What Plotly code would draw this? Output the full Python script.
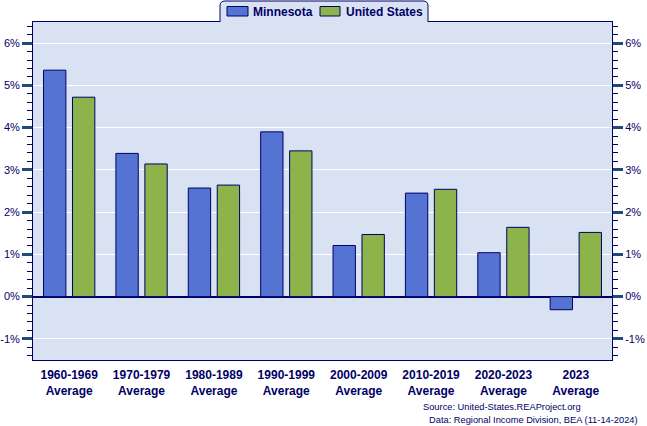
import plotly.graph_objects as go

categories = ["1960-1969<br>Average", "1970-1979<br>Average", "1980-1989<br>Average",
              "1990-1999<br>Average", "2000-2009<br>Average", "2010-2019<br>Average",
              "2020-2023<br>Average", "2023<br>Average"]
minnesota = [5.36, 3.39, 2.57, 3.90, 1.21, 2.45, 1.04, -0.31]
united_states = [4.72, 3.14, 2.64, 3.45, 1.47, 2.54, 1.64, 1.52]
series_names = ["Minnesota", "United States"]
tick_values = [-1, 0, 1, 2, 3, 4, 5, 6]
tick_labels = ["-1%", "0%", "1%", "2%", "3%", "4%", "5%", "6%"]

W, H = 647, 426
ML, MR, MT, MB = 33, 35, 22, 66
PW, PH = W - ML - MR, H - MT - MB

def px(x):
    return (x - ML) / PW

def py(y):
    return (H - MB - y) / PH

NAVY = "#000066"
TICK = "#1f4a7a"
BG = "#d9e2f3"
BLUE = "#5573d2"
GREEN = "#8cb44b"
FONT = "Liberation Sans, Arial, sans-serif"

fig = go.Figure()
fig.add_trace(go.Bar(x=categories, y=minnesota, name=series_names[0],
                     marker=dict(color=BLUE, line=dict(color=NAVY, width=1))))
fig.add_trace(go.Bar(x=categories, y=united_states, name=series_names[1],
                     marker=dict(color=GREEN, line=dict(color=NAVY, width=1))))
fig.add_trace(go.Scatter(x=categories, y=minnesota, yaxis="y2", mode="markers",
                         marker=dict(opacity=0), hoverinfo="skip", showlegend=False))

yax = dict(range=[-1.5, 6.5], tickmode="array", tickvals=tick_values, ticktext=tick_labels,
           ticks="outside", ticklen=10, tickwidth=3, tickcolor=TICK,
           tickfont=dict(family=FONT, size=11, color=NAVY),
           minor=dict(tickmode="linear", tick0=0, dtick=0.2, ticklen=5, tickwidth=1,
                      tickcolor=NAVY, ticks="outside", showgrid=False),
           showline=True, linecolor=NAVY, linewidth=1, fixedrange=True, automargin=False)

fig.update_layout(
    width=W, height=H,
    margin=dict(l=ML, r=MR, t=MT, b=MB, pad=0, autoexpand=False),
    paper_bgcolor="white", plot_bgcolor=BG,
    barmode="group", bargap=0.2, bargroupgap=0.228,
    showlegend=False,
    font=dict(family=FONT, color=NAVY),
    xaxis=dict(showline=True, linecolor=NAVY, linewidth=1, mirror=True, ticks="",
               tickfont=dict(family=FONT, size=12, color=NAVY, weight="bold"),
               ticklabelstandoff=4, fixedrange=True, automargin=False),
    yaxis=dict(**yax, showgrid=True, gridcolor="white", gridwidth=1,
               zeroline=True, zerolinecolor=NAVY, zerolinewidth=1.5, side="left"),
    yaxis2=dict(**yax, overlaying="y", side="right", showgrid=False, zeroline=False),
)

# legend tab
x0, x1 = px(220), px(428)
yt, yb = py(1), py(22.8)
yline = py(22)
dx, dy = 5 / PW, 5 / PH
tab_fill = (f"M{x0},{yb} L{x0},{yt-dy} Q{x0},{yt} {x0+dx},{yt} L{x1-dx},{yt} "
            f"Q{x1},{yt} {x1},{yt-dy} L{x1},{yb} Z")
tab_line = (f"M{x0},{yline} L{x0},{yt-dy} Q{x0},{yt} {x0+dx},{yt} L{x1-dx},{yt} "
            f"Q{x1},{yt} {x1},{yt-dy} L{x1},{yline}")
shapes = [
    dict(type="path", xref="paper", yref="paper", path=tab_fill,
         fillcolor=BG, line=dict(width=0), layer="above"),
    dict(type="path", xref="paper", yref="paper", path=tab_line,
         fillcolor="rgba(0,0,0,0)", line=dict(color=NAVY, width=1), layer="above"),
    dict(type="rect", xref="paper", yref="paper", x0=px(227), x1=px(248), y0=py(16), y1=py(6.5),
         fillcolor=BLUE, line=dict(color=NAVY, width=1), layer="above"),
    dict(type="rect", xref="paper", yref="paper", x0=px(320), x1=px(340), y0=py(16), y1=py(6.5),
         fillcolor=GREEN, line=dict(color=NAVY, width=1), layer="above"),
]
annotations = [
    dict(text=series_names[0], x=px(251), y=py(11.5), xref="paper", yref="paper",
         xanchor="left", yanchor="middle", showarrow=False,
         font=dict(family=FONT, size=12, color=NAVY, weight="bold")),
    dict(text=series_names[1], x=px(344), y=py(11.5), xref="paper", yref="paper",
         xanchor="left", yanchor="middle", showarrow=False,
         font=dict(family=FONT, size=12, color=NAVY, weight="bold")),
    dict(text="Source: United-States.REAProject.org", x=px(583), y=py(407),
         xref="paper", yref="paper", xanchor="right", yanchor="middle", showarrow=False,
         font=dict(family=FONT, size=9.3, color=NAVY)),
    dict(text="Data: Regional Income Division, BEA (11-14-2024)", x=px(640), y=py(420),
         xref="paper", yref="paper", xanchor="right", yanchor="middle", showarrow=False,
         font=dict(family=FONT, size=9.3, color=NAVY)),
]
fig.update_layout(shapes=shapes, annotations=annotations)

fig.write_html("out.html")
